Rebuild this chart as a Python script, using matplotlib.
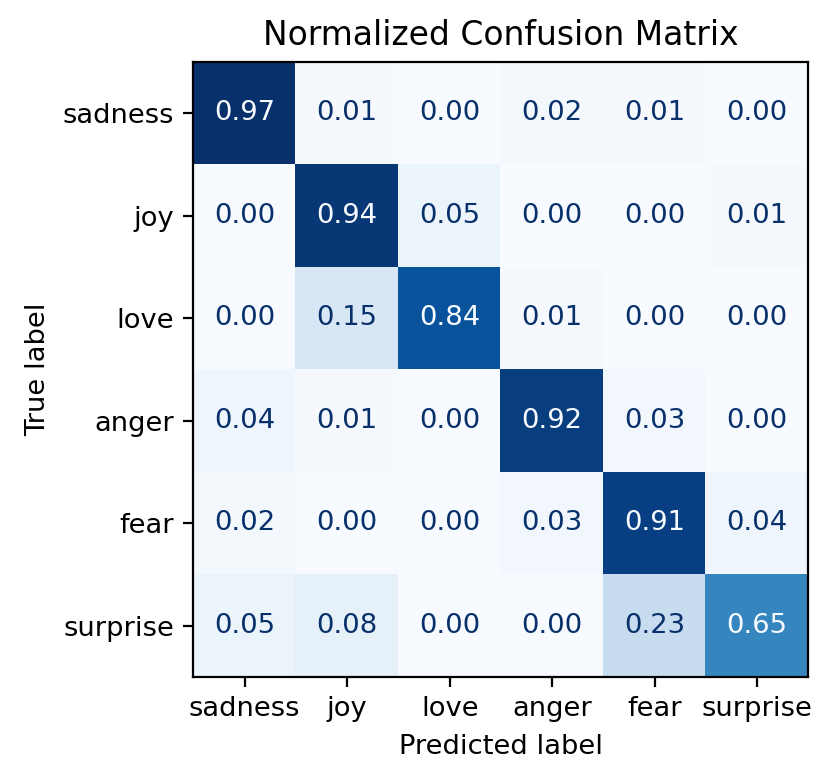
import numpy as np
import matplotlib
matplotlib.use('Agg')
import matplotlib.pyplot as plt

labels = ['sadness', 'joy', 'love', 'anger', 'fear', 'surprise']
# rows = true label, columns = predicted label
cm = np.array([
    [0.97, 0.01, 0.00, 0.02, 0.01, 0.00],
    [0.00, 0.94, 0.05, 0.00, 0.00, 0.01],
    [0.00, 0.15, 0.84, 0.01, 0.00, 0.00],
    [0.04, 0.01, 0.00, 0.92, 0.03, 0.00],
    [0.02, 0.00, 0.00, 0.03, 0.91, 0.04],
    [0.05, 0.08, 0.00, 0.00, 0.23, 0.65],
])

plt.rcParams['font.size'] = 9.85
cmap = plt.get_cmap('Blues')
fig = plt.figure(figsize=(8.35 / 2, 7.84 / 2), dpi=200)
ax = fig.add_axes([0.2311, 0.1365, 0.7377, 0.7844])
ax.imshow(cm, cmap=cmap, interpolation='nearest', vmin=cm.min(), vmax=cm.max())

thresh = (cm.max() + cm.min()) / 2.0
for i in range(cm.shape[0]):
    for j in range(cm.shape[1]):
        color = cmap(0.0) if cm[i, j] >= thresh else cmap(1.0)
        ax.text(j, i, "{:.2f}".format(cm[i, j]), ha='center', va='center',
                color=color)

ax.set_xticks(np.arange(len(labels)))
ax.set_yticks(np.arange(len(labels)))
ax.set_xticklabels(labels)
ax.set_yticklabels(labels)
ax.set_xlabel('Predicted label')
ax.set_ylabel('True label')
ax.set_title('Normalized Confusion Matrix')

fig.savefig('out.png', dpi=200)
